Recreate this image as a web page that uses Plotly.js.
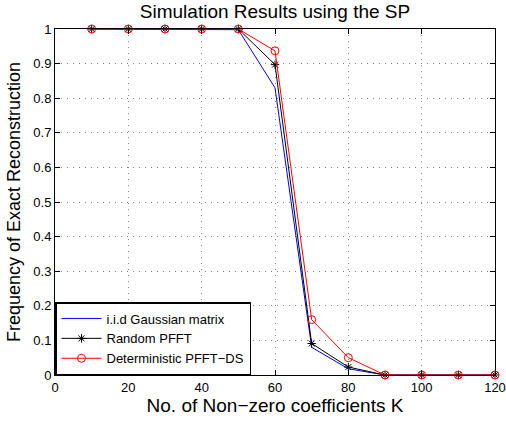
<!DOCTYPE html>
<html><head><meta charset="utf-8">
<script src="https://cdn.plot.ly/plotly-3.0.1.min.js"></script>
<style>html,body{margin:0;padding:0;background:#fff}#c{width:506px;height:423px}</style>
</head><body><div id="c"></div>
<script>
const K = [10, 20, 30, 40, 50, 60, 70, 80, 90, 100, 110, 120];
const gaussian = [1, 1, 1, 1, 0.998, 0.83, 0.08, 0.018, 0, 0, 0, 0];
const randomPFFT = [1, 1, 1, 1, 1, 0.897, 0.091, 0.023, 0, 0, 0, 0];
const detPFFT = [1, 1, 1, 1, 1, 0.937, 0.16, 0.05, 0, 0, 0, 0];
const names = ['i.i.d Gaussian matrix', 'Random PFFT', 'Deterministic PFFT\u2212DS'];
const xTicks = [0, 20, 40, 60, 80, 100, 120];
const yTicks = [0, 0.1, 0.2, 0.3, 0.4, 0.5, 0.6, 0.7, 0.8, 0.9, 1];

const traces = [
  {x: K, y: gaussian, name: names[0], mode: 'lines', cliponaxis: false, line: {color: '#0000ff', width: 1}},
  {x: K, y: randomPFFT, name: names[1], mode: 'lines+markers', cliponaxis: false, line: {color: '#000000', width: 1},
   marker: {symbol: 'asterisk-open', size: 7, color: '#000000', line: {width: 1, color: '#000000'}}},
  {x: K, y: detPFFT, name: names[2], mode: 'lines+markers', cliponaxis: false, line: {color: '#ff0000', width: 1},
   marker: {symbol: 'circle-open', size: 8, color: '#ff0000', line: {width: 1, color: '#ff0000'}}}
];
const axBase = {
  showline: true, mirror: 'ticks', linecolor: '#000', linewidth: 1,
  ticks: 'inside', ticklen: 5, tickcolor: '#000',
  showgrid: true, gridcolor: '#888', griddash: '1px,5px', gridwidth: 1,
  zeroline: false, tickfont: {family: 'Liberation Sans, Arial', size: 13, color: '#000'}
};
const layout = {
  width: 506, height: 423,
  margin: {l: 55, r: 11, t: 29, b: 48},
  paper_bgcolor: '#fff', plot_bgcolor: '#fff',
  font: {family: 'Liberation Sans, Arial', color: '#000'},
  title: {text: 'Simulation Results using the SP', font: {size: 19, color: '#000'},
          x: 0.5, xref: 'paper', xanchor: 'center', y: 0.972, yanchor: 'middle', yref: 'container'},
  xaxis: Object.assign({}, axBase, {range: [0, 120], tickvals: xTicks, ticktext: xTicks.map(String),
          title: {text: 'No. of Non\u2212zero coefficients K', font: {size: 19, color: '#000'}, standoff: 2}}),
  yaxis: Object.assign({}, axBase, {range: [0, 1], tickvals: yTicks, ticktext: yTicks.map(String),
          title: {text: 'Frequency of Exact Reconstruction', font: {size: 18, color: '#000'}, standoff: 8}}),
  legend: {x: 0, y: 0, xanchor: 'left', yanchor: 'bottom', bgcolor: '#fff',
           bordercolor: '#000', borderwidth: 1.5, font: {size: 13, color: '#000'},
           tracegroupgap: 0, itemwidth: 40},
  showlegend: true
};
Plotly.newPlot('c', traces, layout, {displayModeBar: false, staticPlot: true});
</script></body></html>
